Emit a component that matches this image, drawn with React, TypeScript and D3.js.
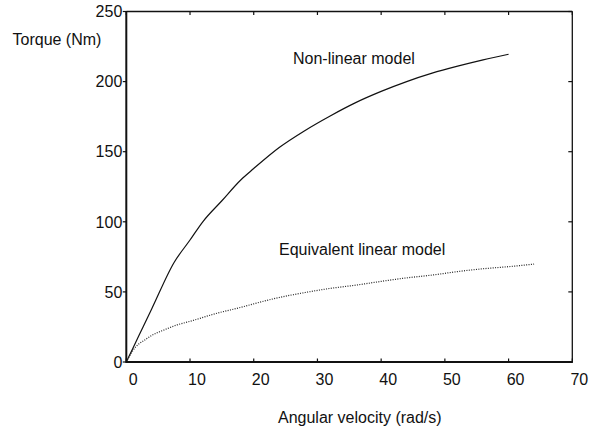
import * as d3 from "d3";

// Non-linear model (solid)
const nonlinVel = [0, 2, 4, 7.5, 10, 12, 15, 18, 20, 24, 28, 32, 36, 40, 44, 48, 52, 56, 60];
const nonlinTorque = [0, 19, 38, 71, 87, 100, 115, 130, 138, 153, 165, 175.5, 185, 193, 200, 206, 211, 215.5, 219.5];

// Equivalent linear model (dotted)
const linVel = [0, 1, 2, 3, 4, 6, 8, 10, 14, 18, 20, 24, 28, 32, 36, 40, 44, 48, 52, 56, 60, 64];
const linTorque = [0, 8, 13, 16, 19, 23, 26.5, 29, 34.5, 39, 41.5, 46, 49.5, 52.5, 54.8, 57.5, 60, 62, 64.5, 66.5, 68, 69.8];

const xTicks = [0, 10, 20, 30, 40, 50, 60, 70];
const yTicks = [0, 50, 100, 150, 200, 250];

const W = 591;
const H = 429;
const LEFT = 126.3;
const RIGHT = 572.3;
const TOP = 11.5;
const BOTTOM = 362;
const FONT = "'Liberation Sans', Arial, Helvetica, sans-serif";

type Pt = [number, number];

export default function App() {
  const x = d3.scaleLinear().domain([0, 70]).range([LEFT, RIGHT]);
  const y = d3.scaleLinear().domain([0, 250]).range([BOTTOM, TOP]);

  const line = d3
    .line<Pt>()
    .x((d) => x(d[0]))
    .y((d) => y(d[1]))
    .curve(d3.curveMonotoneX);

  const nonlin: Pt[] = nonlinVel.map((v, i) => [v, nonlinTorque[i]]);
  const lin: Pt[] = linVel.map((v, i) => [v, linTorque[i]]);

  return (
    <div style={{ position: "absolute", left: 0, top: 0 }}>
      <svg width={W} height={H} style={{ display: "block", background: "#fff" }} fontFamily={FONT}>
        {/* curves */}
        <path d={line(nonlin) ?? ""} fill="none" stroke="#111" strokeWidth={1.2} />
        <path
          d={line(lin) ?? ""}
          fill="none"
          stroke="#222"
          strokeWidth={1.2}
          strokeDasharray="1 1.4"
        />

        {/* box */}
        <line x1={LEFT} x2={RIGHT} y1={TOP} y2={TOP} stroke="#111" strokeWidth={1.3} />
        <line x1={RIGHT} x2={RIGHT} y1={TOP} y2={BOTTOM} stroke="#111" strokeWidth={1.3} />
        <line x1={LEFT} x2={LEFT} y1={TOP - 0.6} y2={BOTTOM + 1} stroke="#111" strokeWidth={2} />
        <line x1={LEFT} x2={RIGHT + 0.6} y1={BOTTOM} y2={BOTTOM} stroke="#111" strokeWidth={2} />

        {/* x ticks: inward on bottom and top */}
        {xTicks.map((t) => (
          <g key={`x${t}`}>
            <line x1={x(t)} x2={x(t)} y1={BOTTOM} y2={BOTTOM - 3.5} stroke="#111" strokeWidth={1.2} />
            <line x1={x(t)} x2={x(t)} y1={TOP} y2={TOP + 3.5} stroke="#111" strokeWidth={1.2} />
            <text x={x(t) + 7} y={BOTTOM + 23} fontSize={16} textAnchor="middle" fill="#111">
              {t}
            </text>
          </g>
        ))}

        {/* y ticks: outward on left, inward on right */}
        {yTicks.map((t) => (
          <g key={`y${t}`}>
            <line x1={LEFT - 3.5} x2={LEFT} y1={y(t)} y2={y(t)} stroke="#111" strokeWidth={1.2} />
            <line x1={RIGHT} x2={RIGHT - 4} y1={y(t)} y2={y(t)} stroke="#111" strokeWidth={1.2} />
            <text x={LEFT - 4} y={y(t)} dy="0.36em" fontSize={16} textAnchor="end" fill="#111">
              {t}
            </text>
          </g>
        ))}

        {/* labels */}
        <text x={12.5} y={45} fontSize={16} fill="#111">
          Torque (Nm)
        </text>
        <text x={278} y={423} fontSize={16} fill="#111">
          Angular velocity (rad/s)
        </text>
        <text x={293} y={63.5} fontSize={16} fill="#111">
          Non-linear model
        </text>
        <text x={279} y={254.5} fontSize={16} fill="#111">
          Equivalent linear model
        </text>
      </svg>
    </div>
  );
}
